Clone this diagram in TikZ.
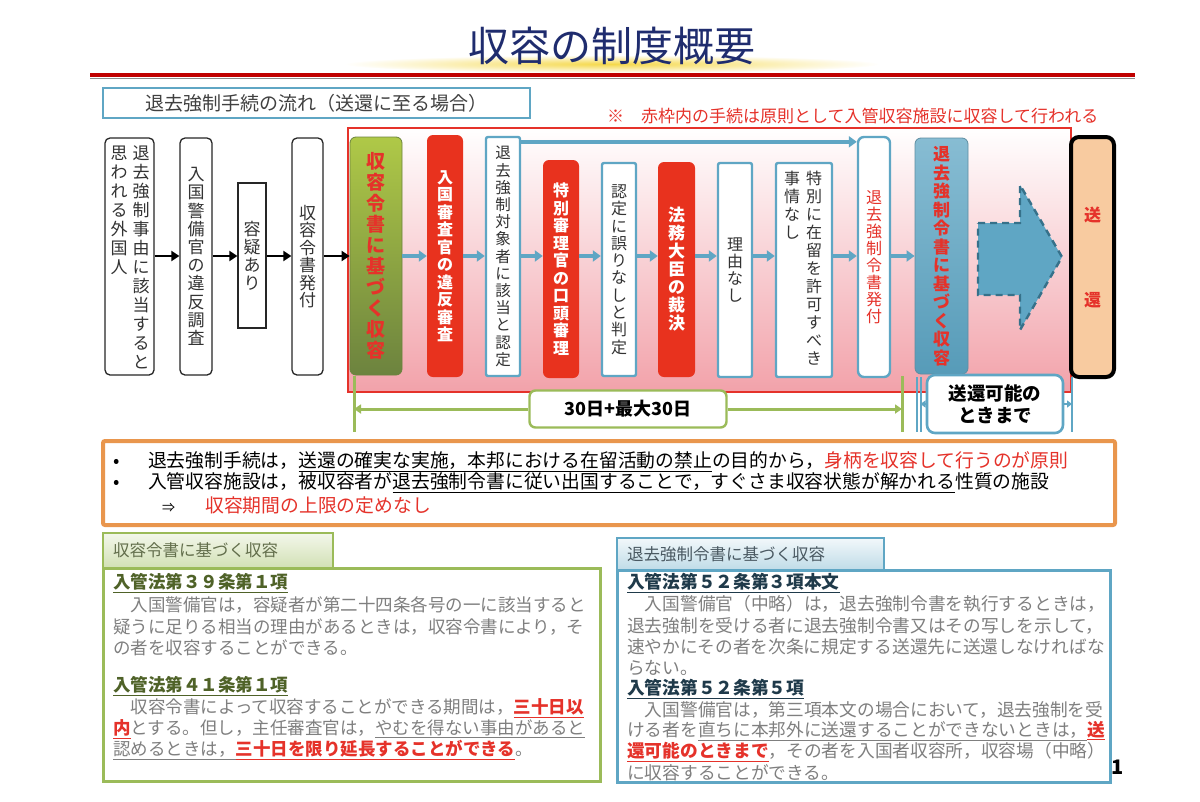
\documentclass[tikz,border=0pt]{standalone}
\usepackage{fontspec}
\setmainfont{Noto Sans CJK JP}
\usepackage{xcolor}
\usetikzlibrary{arrows.meta,positioning}

\definecolor{flowblue}{HTML}{5FA6C4}
\definecolor{edgeblue}{HTML}{36718A}
\definecolor{boxred}{HTML}{E8321E}
\definecolor{txtred}{HTML}{E5322A}
\definecolor{framepink}{HTML}{F2A2AA}
\definecolor{leafgreen}{HTML}{9BBB59}
\definecolor{lawolive}{HTML}{4F6228}
\definecolor{lawslate}{HTML}{1F3A4A}
\definecolor{peach}{HTML}{F8CBA0}
\definecolor{orangeline}{HTML}{E9964D}
\definecolor{titlenavy}{HTML}{1F2C6E}
\definecolor{titleglow}{HTML}{F5D84A}
\definecolor{textgray}{HTML}{7F7F7F}
\definecolor{linered}{HTML}{C00000}

\newcommand{\fz}[2]{\fontsize{#1}{#2}\selectfont}
% vertical text: one character per line
\newcommand{\vtxt}[1]{\vtxtA#1\relax}
\def\vtxtA#1{#1\vtxtB}
\def\vtxtB#1{\ifx#1\relax\else\\#1\expandafter\vtxtB\fi}
\newcommand{\redu}[1]{\textcolor{txtred}{\bfseries\underline{#1}}}

\begin{document}
\begin{tikzpicture}[x=1pt,y=-1pt,
  wbox/.style={draw=black!85, line width=1.3pt, rounded corners=5pt, fill=white, inner sep=0pt, text=black!80, align=center},
  bbox/.style={draw=flowblue, line width=2.4pt, rounded corners=2pt, fill=white, inner sep=0pt, text=black!80, align=center},
  rbox/.style={fill=boxred, rounded corners=6pt, inner sep=0pt, text=white, align=center},
  coltxt/.style={anchor=north, inner sep=0pt, align=center, text=black!80},
  karrow/.style={line width=2.6pt, -{Triangle[length=8pt,width=10pt]}},
  barrow/.style={line width=3.6pt, flowblue, -{Triangle[length=8pt,width=11pt]}},
  bigarrow/.style={fill=flowblue, draw=edgeblue, line width=2.4pt, dash pattern=on 7pt off 5pt},
  gline/.style={line width=3pt, leafgreen},
  bline/.style={line width=2pt, flowblue},
  linetxt/.style={anchor=west, inner sep=0pt},
  lawtxt/.style={anchor=west, inner sep=0pt, font=\fz{17.5}{20}, text=textgray},
]
\useasboundingbox (0,0) rectangle (1200,801);

% Title
\shade[inner color=titleglow, outer color=white] (612,64) ellipse (268 and 9);
\node[font=\fz{41}{45}, text=titlenavy] (title) at (612,46) {収容の制度概要};
\draw[line width=4pt, linered] (90,75) -- (1135,75);
\draw[line width=1pt, black!45] (90,78.5) -- (1135,78.5);

% Header and note
\node[draw=flowblue, line width=2.4pt, minimum width=427, minimum height=30, inner sep=0pt, font=\fz{19}{21}, text=black!75] (flowhead) at (316.5,103) {退去強制手続の流れ（送還に至る場合）};
\node[linetxt, font=\fz{17}{19}, text=txtred] (note) at (607,116) {※　赤枠内の手続は原則として入管収容施設に収容して行われる};

% Red frame (inside the detention facility)
\path[draw=txtred, line width=1.2pt, top color=white, bottom color=framepink] (348,128) rectangle (1071,392);

% Before detention
\node[wbox, minimum width=49, minimum height=237] (gaikoku) at (129.5,256.5) {};
\node[coltxt, font=\fz{17}{19}] (gaikokuR) at (141,146) {\vtxt{退去強制事由に該当すると}};
\node[coltxt, font=\fz{17}{19}] (gaikokuL) at (119,146) {\vtxt{思われる外国人}};
\node[wbox, minimum width=32, minimum height=237, font=\fz{17}{18.2}] (ihan) at (196,256.5) {\vtxt{入国警備官の違反調査}};
\node[wbox, rounded corners=0pt, minimum width=28, minimum height=145, font=\fz{17}{18}] (yogi) at (252,255.5) {\vtxt{容疑あり}};
\node[wbox, minimum width=31, minimum height=237, font=\fz{17}{17.5}] (reisho) at (307.5,256.5) {\vtxt{収容令書発付}};

% Inside the red frame
\node[draw=leafgreen!70!black, line width=0.8pt, rounded corners=6pt, top color=leafgreen!80!yellow, bottom color=leafgreen!70!black, minimum width=52, minimum height=238, inner sep=0pt, align=center, text=txtred, font=\fz{19}{21}\bfseries] (shuyo) at (376,256) {\vtxt{収容令書に基づく収容}};
\node[rbox, minimum width=36, minimum height=242, font=\fz{16}{17.5}\bfseries] (shinsa) at (445,256) {\vtxt{入国審査官の違反審査}};
\node[bbox, minimum width=34, minimum height=239, font=\fz{15.5}{17.2}] (nintei) at (503,256.5) {\vtxt{退去強制対象者に該当と認定}};
\node[rbox, minimum width=36, minimum height=218, font=\fz{16}{17.5}\bfseries] (shinri) at (561,269) {\vtxt{特別審理官の口頭審理}};
\node[bbox, minimum width=34, minimum height=213, font=\fz{16}{17.3}] (hantei) at (619,269.5) {\vtxt{認定に誤りなしと判定}};
\node[rbox, minimum width=37, minimum height=215, font=\fz{17}{18}\bfseries] (saiketsu) at (676.5,269.5) {\vtxt{法務大臣の裁決}};
\node[bbox, minimum width=34, minimum height=214, font=\fz{16}{17}] (riyu) at (735,270) {\vtxt{理由なし}};
\node[bbox, minimum width=56, minimum height=214] (jijo) at (804,270) {};
\node[coltxt, font=\fz{16}{18}] (jijoR) at (814,171) {\vtxt{特別に在留を許可すべき}};
\node[coltxt, font=\fz{16}{18}] (jijoL) at (792,171) {\vtxt{事情なし}};
\node[bbox, rounded corners=6pt, minimum width=32, minimum height=240, text=txtred, font=\fz{16}{17}] (hakko) at (874,257) {\vtxt{退去強制令書発付}};
\node[draw=edgeblue!80, line width=0.8pt, rounded corners=6pt, top color=flowblue!75!white, bottom color=flowblue!80!edgeblue, minimum width=53, minimum height=236, inner sep=0pt, align=center, text=txtred, font=\fz{17}{18.5}\bfseries] (kyosei) at (941.5,256) {\vtxt{退去強制令書に基づく収容}};

% Deportation
\node[draw=black, line width=4pt, rounded corners=8pt, fill=peach, minimum width=43, minimum height=240, inner sep=0pt, align=center, text=txtred, font=\fz{17}{20}\bfseries] (soukan) at (1092.5,257) {送\\[65pt]還};
\draw[bigarrow] (978,223) -- (1020,223) -- (1020,185) -- (1062,257) -- (1020,330) -- (1020,295) -- (978,295) -- cycle;

% Arrows
\coordinate (mid) at (0,256);
\foreach \a/\b in {gaikoku/ihan, ihan/yogi, yogi/reisho, reisho/shuyo}
  \draw[karrow] (\a.east |- mid) -- (\b.west |- mid);
\foreach \a/\b in {shuyo/shinsa, shinsa/nintei, nintei/shinri, shinri/hantei, hantei/saiketsu, saiketsu/riyu, riyu/jijo, jijo/hakko, hakko/kyosei}
  \draw[barrow] (\a.east |- mid) -- (\b.west |- mid);
\coordinate (toprun) at ([yshift=-6pt]nintei.north east);
\draw[barrow] (toprun) -- (toprun -| hakko.west);

% Period: 30 days
\coordinate (gL) at (354,376);
\coordinate (gR) at (902,376);
\draw[gline] (gL) -- ++(0,56);
\draw[gline] (gR) -- ++(0,56);
\node[draw=leafgreen, line width=2.4pt, rounded corners=6pt, fill=white, minimum width=197, minimum height=37, font=\fz{18}{20}\bfseries] (days) at (628,409) {30日+最大30日};
\draw[gline, {Triangle[length=7pt,width=9pt]}-] (gL |- days) -- (days.west);
\draw[gline, -{Triangle[length=7pt,width=9pt]}] (days.east) -- (gR |- days);

% Period: until deportation possible
\coordinate (bL) at (916.5,377);
\coordinate (bL2) at (920.5,377);
\coordinate (bR) at (1072,377);
\draw[bline] (bL) -- ++(0,55);
\draw[bline] (bL2) -- ++(0,55);
\draw[bline] (bR) -- ++(0,55);
\node[draw=flowblue, line width=2.6pt, rounded corners=8pt, fill=white, minimum width=136, minimum height=58, inner sep=0pt, align=center, font=\fz{18.5}{22}\bfseries] (until) at (995,404) {送還可能の\\ときまで};
\draw[bline, -{Triangle[length=5pt,width=7pt]}] (until.west) -- (until.west -| bL2);
\draw[bline, -{Triangle[length=5pt,width=7pt]}] (until.east) -- (until.east -| bR);

% Policy box
\node[draw=orangeline, line width=4pt, rounded corners=2pt, fill=white, minimum width=1012, minimum height=84, inner sep=0pt] (policy) at (609,483) {};
\node[linetxt, font=\fz{18.8}{20}] (pol1) at (113,462) {\makebox[35pt][l]{•}退去強制手続は，\underline{送還の確実な実施，本邦における在留活動の禁止}の目的から，\textcolor{txtred}{身柄を収容して行うのが原則}};
\node[linetxt, font=\fz{18.8}{20}] (pol2) at (113,483) {\makebox[35pt][l]{•}入管収容施設は，被収容者が\underline{退去強制令書に従い出国することで，すぐさま収容状態が解かれる}性質の施設};
\node[linetxt, font=\fz{18.8}{20}] (pol3) at (162,505) {\makebox[43pt][l]{\fz{13}{15}⇒}\textcolor{txtred}{収容期間の上限の定めなし}};

% Law: detention order
\node[draw=leafgreen, line width=3pt, fill=white, minimum width=497, minimum height=213, inner sep=0pt] (lawL) at (351.5,674.5) {};
\node[draw=leafgreen, line width=1.5pt, top color=leafgreen!12, bottom color=leafgreen!45, minimum width=230, minimum height=35, inner sep=0pt, text width=210, align=left, font=\fz{16.5}{18}, text=lawolive!60!gray] (tabL) at (218,550.5) {収容令書に基づく収容};
\node[lawtxt, text=lawolive, font=\fz{17.5}{20}\bfseries] (lawL1) at (113,583) {\underline{入管法第３９条第１項}};
\node[lawtxt] (lawL2) at (113,605) {　入国警備官は，容疑者が第二十四条各号の一に該当すると};
\node[lawtxt] (lawL3) at (113,627) {疑うに足りる相当の理由があるときは，収容令書により，そ};
\node[lawtxt] (lawL4) at (113,648) {の者を収容することができる。};
\node[lawtxt, text=lawolive, font=\fz{17.5}{20}\bfseries] (lawL5) at (113,686) {\underline{入管法第４１条第１項}};
\node[lawtxt] (lawL6) at (113,708) {　収容令書によって収容することができる期間は，\redu{三十日以}};
\node[lawtxt] (lawL7) at (113,729) {\redu{内}とする。但し，主任審査官は，\underline{やむを得ない事由があると}};
\node[lawtxt] (lawL8) at (113,750) {\underline{認めるときは，}\redu{三十日を限り延長することができる}。};

% Law: deportation order
\node[draw=flowblue, line width=3pt, fill=white, minimum width=493, minimum height=212, inner sep=0pt] (lawR) at (863.5,676) {};
\node[draw=flowblue, line width=1.5pt, top color=flowblue!8, bottom color=flowblue!40, minimum width=267, minimum height=32, inner sep=0pt, text width=247, align=left, font=\fz{16.5}{18}, text=lawslate!55!gray] (tabR) at (750.5,554) {退去強制令書に基づく収容};
\node[lawtxt, text=lawslate, font=\fz{17.7}{20}\bfseries] (lawR1) at (627,583) {\underline{入管法第５２条第３項本文}};
\node[lawtxt, font=\fz{17.7}{20}] (lawR2) at (627,604) {　入国警備官（中略）は，退去強制令書を執行するときは，};
\node[lawtxt, font=\fz{17.7}{20}] (lawR3) at (627,626) {退去強制を受ける者に退去強制令書又はその写しを示して，};
\node[lawtxt, font=\fz{17.7}{20}] (lawR4) at (627,647) {速やかにその者を次条に規定する送還先に送還しなければな};
\node[lawtxt, font=\fz{17.7}{20}] (lawR5) at (627,668) {らない。};
\node[lawtxt, text=lawslate, font=\fz{17.7}{20}\bfseries] (lawR6) at (627,689) {\underline{入管法第５２条第５項}};
\node[lawtxt, font=\fz{17.7}{20}] (lawR7) at (627,710) {　入国警備官は，第三項本文の場合において，退去強制を受};
\node[lawtxt, font=\fz{17.7}{20}] (lawR8) at (627,731) {ける者を\underline{直ちに本邦外に送還することができないときは，}\redu{送}};
\node[lawtxt, font=\fz{17.7}{20}] (lawR9) at (627,752) {\redu{還可能のときまで}，その者を入国者収容所，収容場（中略）};
\node[lawtxt, font=\fz{17.7}{20}] (lawR10) at (627,773) {に収容することができる。};

% Page number
\node[font=\fz{20}{22}\bfseries] (pageno) at (1118,767) {1};
\end{tikzpicture}
\end{document}
